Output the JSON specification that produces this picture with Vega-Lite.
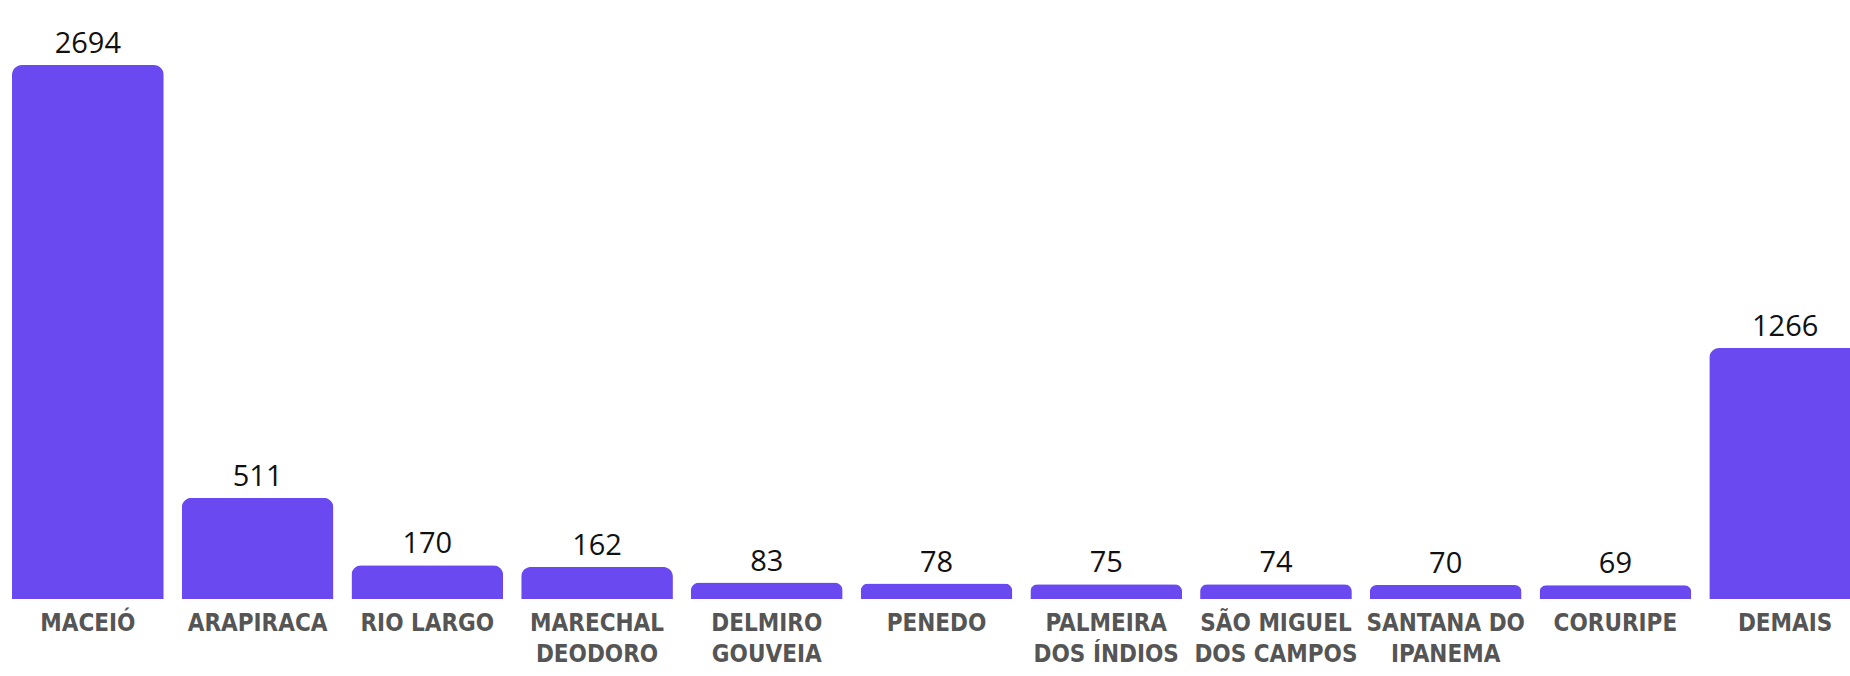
{
  "$schema": "https://vega.github.io/schema/vega-lite/v6.json",
  "autosize": "none",
  "padding": {"left": 3, "top": 65, "right": 0, "bottom": 77},
  "width": 1847,
  "height": 534,
  "background": "white",
  "config": {"view": {"stroke": null}},
  "data": {
    "values": [
      {"municipio": "Maceió", "casos": 2694},
      {"municipio": "Arapiraca", "casos": 511},
      {"municipio": "Rio Largo", "casos": 170},
      {"municipio": "Marechal\nDeodoro", "casos": 162},
      {"municipio": "Delmiro\nGouveia", "casos": 83},
      {"municipio": "Penedo", "casos": 78},
      {"municipio": "Palmeira\ndos Índios", "casos": 75},
      {"municipio": "São Miguel\ndos Campos", "casos": 74},
      {"municipio": "Santana do\nIpanema", "casos": 70},
      {"municipio": "Coruripe", "casos": 69},
      {"municipio": "Demais", "casos": 1266}
    ]
  },
  "encoding": {
    "x": {
      "field": "municipio",
      "type": "nominal",
      "sort": null,
      "scale": {"paddingInner": 0.106, "paddingOuter": 0.053, "range": [0, 1867]},
      "axis": {
        "title": null,
        "domain": false,
        "ticks": false,
        "labelAngle": 0,
        "labelPadding": 12,
        "labelBaseline": "top",
        "labelFont": "DejaVu Sans Condensed",
        "labelFontWeight": "bold",
        "labelFontSize": 24,
        "labelColor": "#555555",
        "labelLineHeight": 31,
        "labelLimit": 0,
        "labelOverlap": false,
        "labelBound": false,
        "labelExpr": "split(upper(datum.label), '\\n')"
      }
    },
    "y": {
      "field": "casos",
      "type": "quantitative",
      "scale": {"domain": [0, 2694], "nice": false, "zero": true},
      "axis": null
    }
  },
  "layer": [
    {
      "mark": {"type": "bar", "color": "#6A4AF0", "cornerRadiusTopLeft": 10, "cornerRadiusTopRight": 10}
    },
    {
      "mark": {"type": "text", "baseline": "alphabetic", "dy": -12, "font": "Open Sans", "fontSize": 29, "color": "#111111"},
      "encoding": {"text": {"field": "casos", "type": "quantitative", "format": "d"}}
    }
  ]
}
